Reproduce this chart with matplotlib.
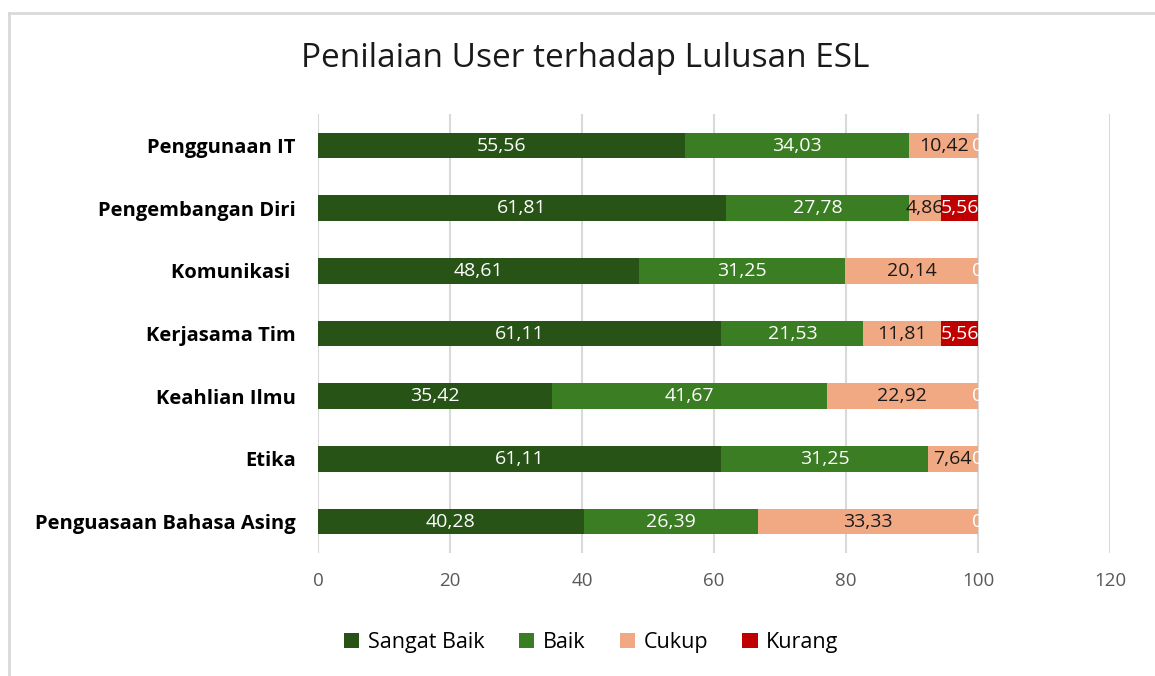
import matplotlib.pyplot as plt
import numpy as np
from matplotlib.lines import Line2D

plt.rcParams['font.family'] = ['Open Sans', 'DejaVu Sans']

# data (top to bottom as shown)
kategori = ["Penggunaan IT", "Pengembangan Diri", "Komunikasi ", "Kerjasama Tim",
            "Keahlian Ilmu", "Etika", "Penguasaan Bahasa Asing"]
sangat_baik = [55.56, 61.81, 48.61, 61.11, 35.42, 61.11, 40.28]
baik = [34.03, 27.78, 31.25, 21.53, 41.67, 31.25, 26.39]
cukup = [10.42, 4.86, 20.14, 11.81, 22.92, 7.64, 33.33]
kurang = [0, 5.56, 0, 5.56, 0, 0, 0]

series = [("Sangat Baik", sangat_baik, "#275317", "white"),
          ("Baik", baik, "#3A7D22", "white"),
          ("Cukup", cukup, "#F1A983", "#1a1a1a"),
          ("Kurang", kurang, "#C00000", "white")]

fig = plt.figure(figsize=(11.55, 6.76), dpi=100)
ax = fig.add_axes([0.2753, 0.182, 0.6857, 0.649])

# chart frame: only top and left edges are visible in the crop
fig.lines.append(Line2D([0.0078, 0.0078], [0, 0.9815], transform=fig.transFigure,
                        color="#d9d9d9", linewidth=2))
fig.lines.append(Line2D([0.0078, 1], [0.9815, 0.9815], transform=fig.transFigure,
                        color="#d9d9d9", linewidth=2))

y = np.arange(len(kategori))
left = np.zeros(len(kategori))
for nama, vals, warna, tcol in series:
    vals = np.array(vals)
    bars = ax.barh(y, vals, left=left, height=0.41, color=warna, label=nama, zorder=3)
    lbl = [f"{v:.2f}".replace(".", ",") if v > 0 else "0" for v in vals]
    ax.bar_label(bars, labels=lbl, label_type="center", color=tcol, fontsize=14, zorder=4)
    left += vals

ax.set_yticks(y)
ax.set_yticklabels(kategori, fontsize=14.5, fontweight="bold")
ax.invert_yaxis()
ax.set_ylim(len(kategori) - 0.5, -0.5)
ax.set_xlim(0, 120)
ax.set_xticks(np.arange(0, 121, 20))
ax.tick_params(axis="x", colors="#595959", labelsize=13.5, length=0, pad=14)
ax.tick_params(axis="y", length=0, pad=16)
ax.xaxis.grid(True, color="#d9d9d9", linewidth=1.5, zorder=0)
for s in ax.spines.values():
    s.set_visible(False)

fig.text(0.507, 0.914, "Penilaian User terhadap Lulusan ESL", ha="center", va="center",
         fontsize=24, color="#1a1a1a")

ax.legend(loc="center", ncol=4, frameon=False, fontsize=15.5, handlelength=0.7,
          handleheight=0.7, handletextpad=0.4, columnspacing=1.6)
ax.get_legend().set_bbox_to_anchor((0.512, 0.05), transform=fig.transFigure)

fig.savefig("out.png", dpi=100)
